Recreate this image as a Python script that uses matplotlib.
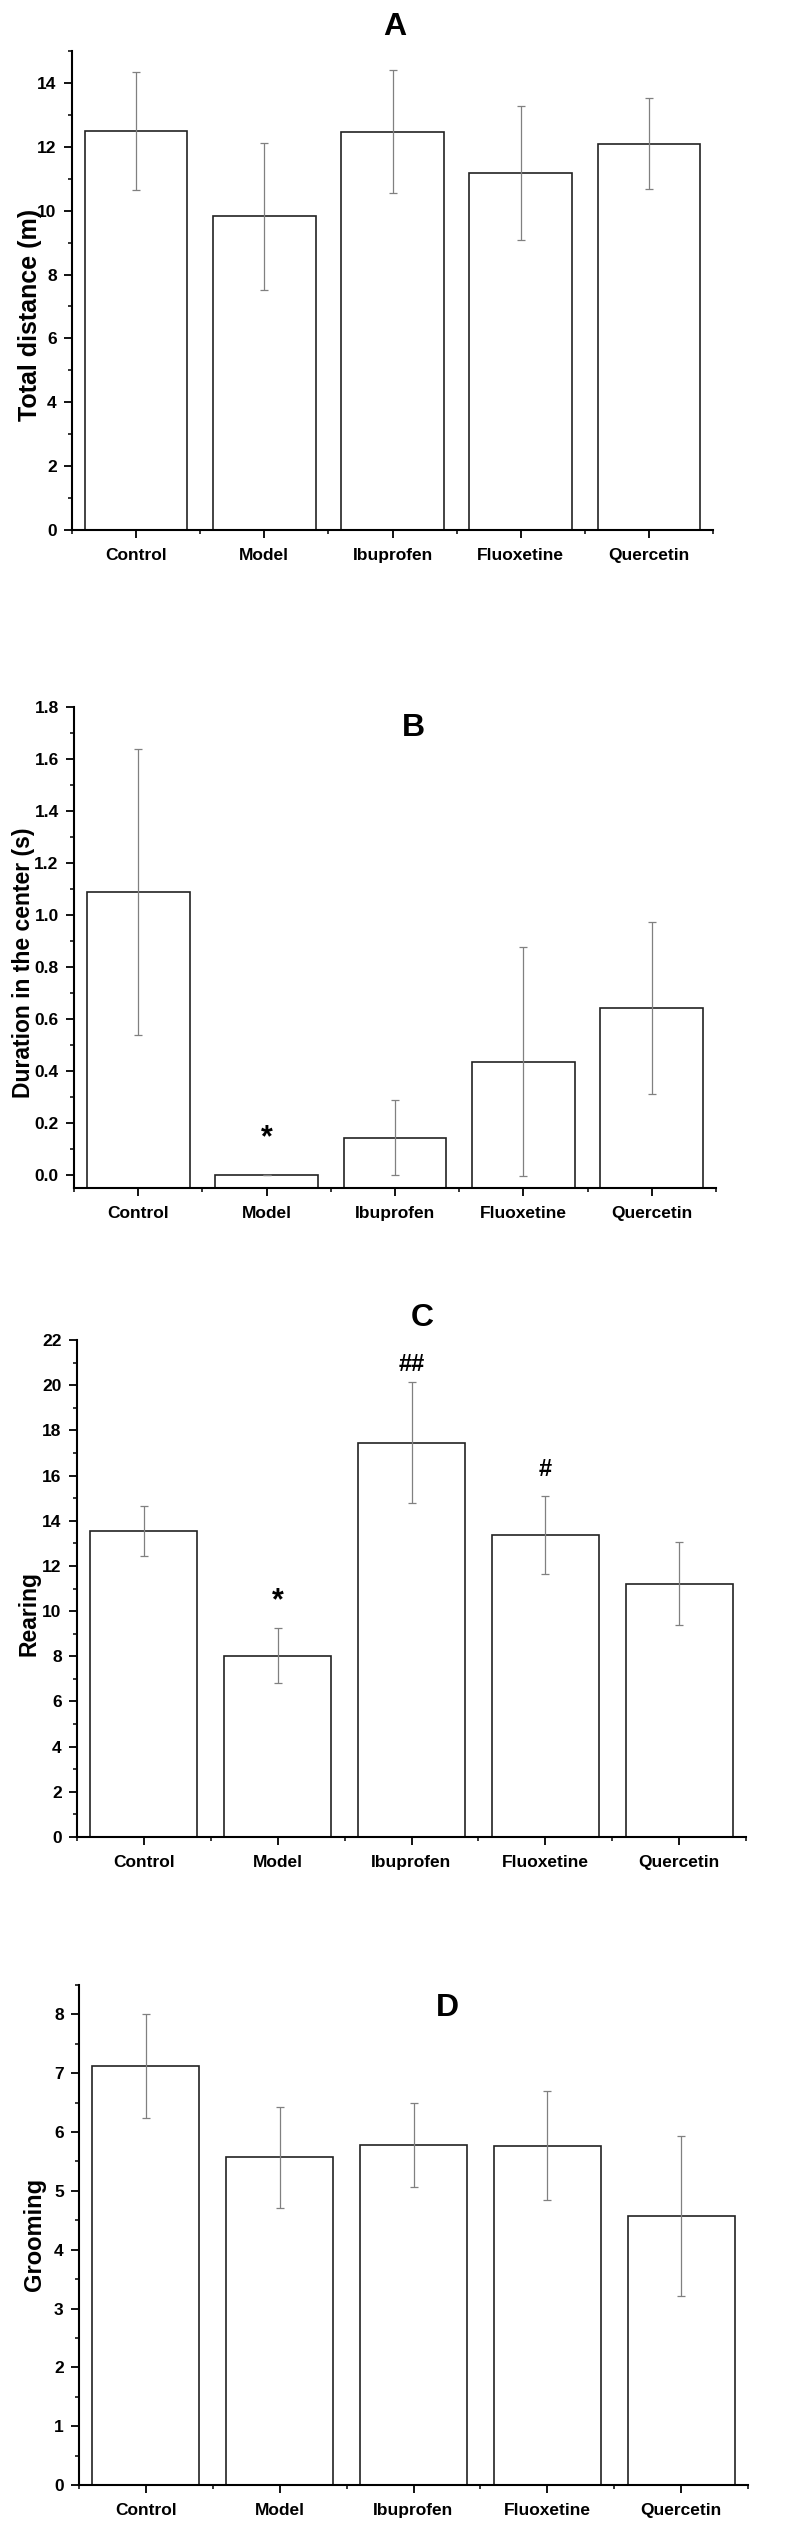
import matplotlib.pyplot as plt
from matplotlib.ticker import MultipleLocator

plt.rcParams['font.family'] = ['Liberation Sans', 'DejaVu Sans']
plt.rcParams['font.weight'] = 'bold'

groups = ['Control', 'Model', 'Ibuprofen', 'Fluoxetine', 'Quercetin']

# A - total distance (m)
dist_mean = [12.5, 9.82, 12.47, 11.17, 12.1]
dist_err = [1.84, 2.3, 1.92, 2.1, 1.43]

# B - duration in the center (s)
center_mean = [1.088, 0.0, 0.144, 0.436, 0.642]
center_err = [0.55, 0.0, 0.143, 0.44, 0.33]

# C - rearing
rear_mean = [13.55, 8.03, 17.46, 13.37, 11.22]
rear_err = [1.1, 1.23, 2.66, 1.73, 1.84]

# D - grooming
groom_mean = [7.12, 5.57, 5.78, 5.77, 4.58]
groom_err = [0.885, 0.855, 0.72, 0.925, 1.36]

# significance marks: (panel, group index, y value, text)
marks = [('B', 1, 0.142, '*'), ('C', 1, 10.44, '*'),
         ('C', 2, 20.93, '##'), ('C', 3, 16.28, '#')]

W, H = 786, 2538
fig = plt.figure(figsize=(W / 100, H / 100), dpi=100)

# name, mean, err, ylabel, ylim, major, minor, fmt, box(l, r, bottom, top px),
# title pos, ylabel size, ylabel pos (axes fraction)
panels = [
    ('A', dist_mean, dist_err, 'Total distance (m)', (0, 15), 2, 1, '%d',
     (72, 713, 530, 51), (0.504, 1.05), 18, (-0.066, 0.449)),
    ('B', center_mean, center_err, 'Duration in the center (s)', (-0.05, 1.8), 0.2, 0.1, '%.1f',
     (74, 716, 1188, 707), (0.528, 0.956), 16.5, (-0.079, 0.468)),
    ('C', rear_mean, rear_err, 'Rearing', (0, 22), 2, 1, '%d',
     (77, 746, 1837, 1340), (0.516, 1.045), 16.5, (-0.072, 0.449)),
    ('D', groom_mean, groom_err, 'Grooming', (0, 8.5), 1, 0.5, '%d',
     (79, 748, 2485, 1985), (0.55, 0.953), 17, (-0.066, 0.502)),
]

x = list(range(len(groups)))

for name, mean, err, ylab, ylim, major, minor, fmt, box, tpos, ysize, ypos in panels:
    l, r, b, t = box
    ax = fig.add_axes([l / W, 1 - b / H, (r - l) / W, (b - t) / H])
    y0 = ylim[0]
    ax.bar(x, [m - y0 for m in mean], bottom=y0, width=0.8, color='white',
           edgecolor='#222222', linewidth=1.2, zorder=2)
    ax.errorbar(x, mean, yerr=err, fmt='none', ecolor='#808080', elinewidth=0.9,
                capsize=3, capthick=0.9, zorder=3)
    ax.set_xlim(-0.5, 4.5)
    ax.set_ylim(*ylim)
    ax.spines['top'].set_visible(False)
    ax.spines['right'].set_visible(False)
    ax.spines['left'].set_linewidth(1.5)
    ax.spines['bottom'].set_linewidth(1.5)
    ax.set_xticks(x)
    ax.set_xticklabels(groups, fontsize=13, fontweight='bold')
    ax.set_xticks([i - 0.5 for i in range(6)], minor=True)
    ax.yaxis.set_major_locator(MultipleLocator(major))
    ax.yaxis.set_minor_locator(MultipleLocator(minor))
    ax.yaxis.set_major_formatter(plt.FormatStrFormatter(fmt))
    ax.tick_params(axis='both', which='major', length=6, width=1.3, direction='out',
                   labelsize=12.5)
    ax.tick_params(axis='both', which='minor', length=3, width=1.1, direction='out')
    ax.tick_params(axis='x', which='major', pad=7)
    ax.tick_params(axis='y', which='major', pad=5)
    for lab in ax.get_yticklabels():
        lab.set_fontweight('bold')
    ax.set_ylabel(ylab, fontsize=ysize, fontweight='bold')
    ax.yaxis.label.set_va('center')
    ax.yaxis.set_label_coords(*ypos)
    ax.text(tpos[0], tpos[1], name, transform=ax.transAxes, ha='center', va='center',
            fontsize=23, fontweight='heavy', clip_on=False)
    for pn, gi, yv, txt in marks:
        if pn == name:
            ax.text(gi, yv, txt, ha='center', va='center', zorder=4,
                    fontsize=22 if txt == '*' else 17, fontweight='bold')

fig.savefig('out.png', dpi=100)
